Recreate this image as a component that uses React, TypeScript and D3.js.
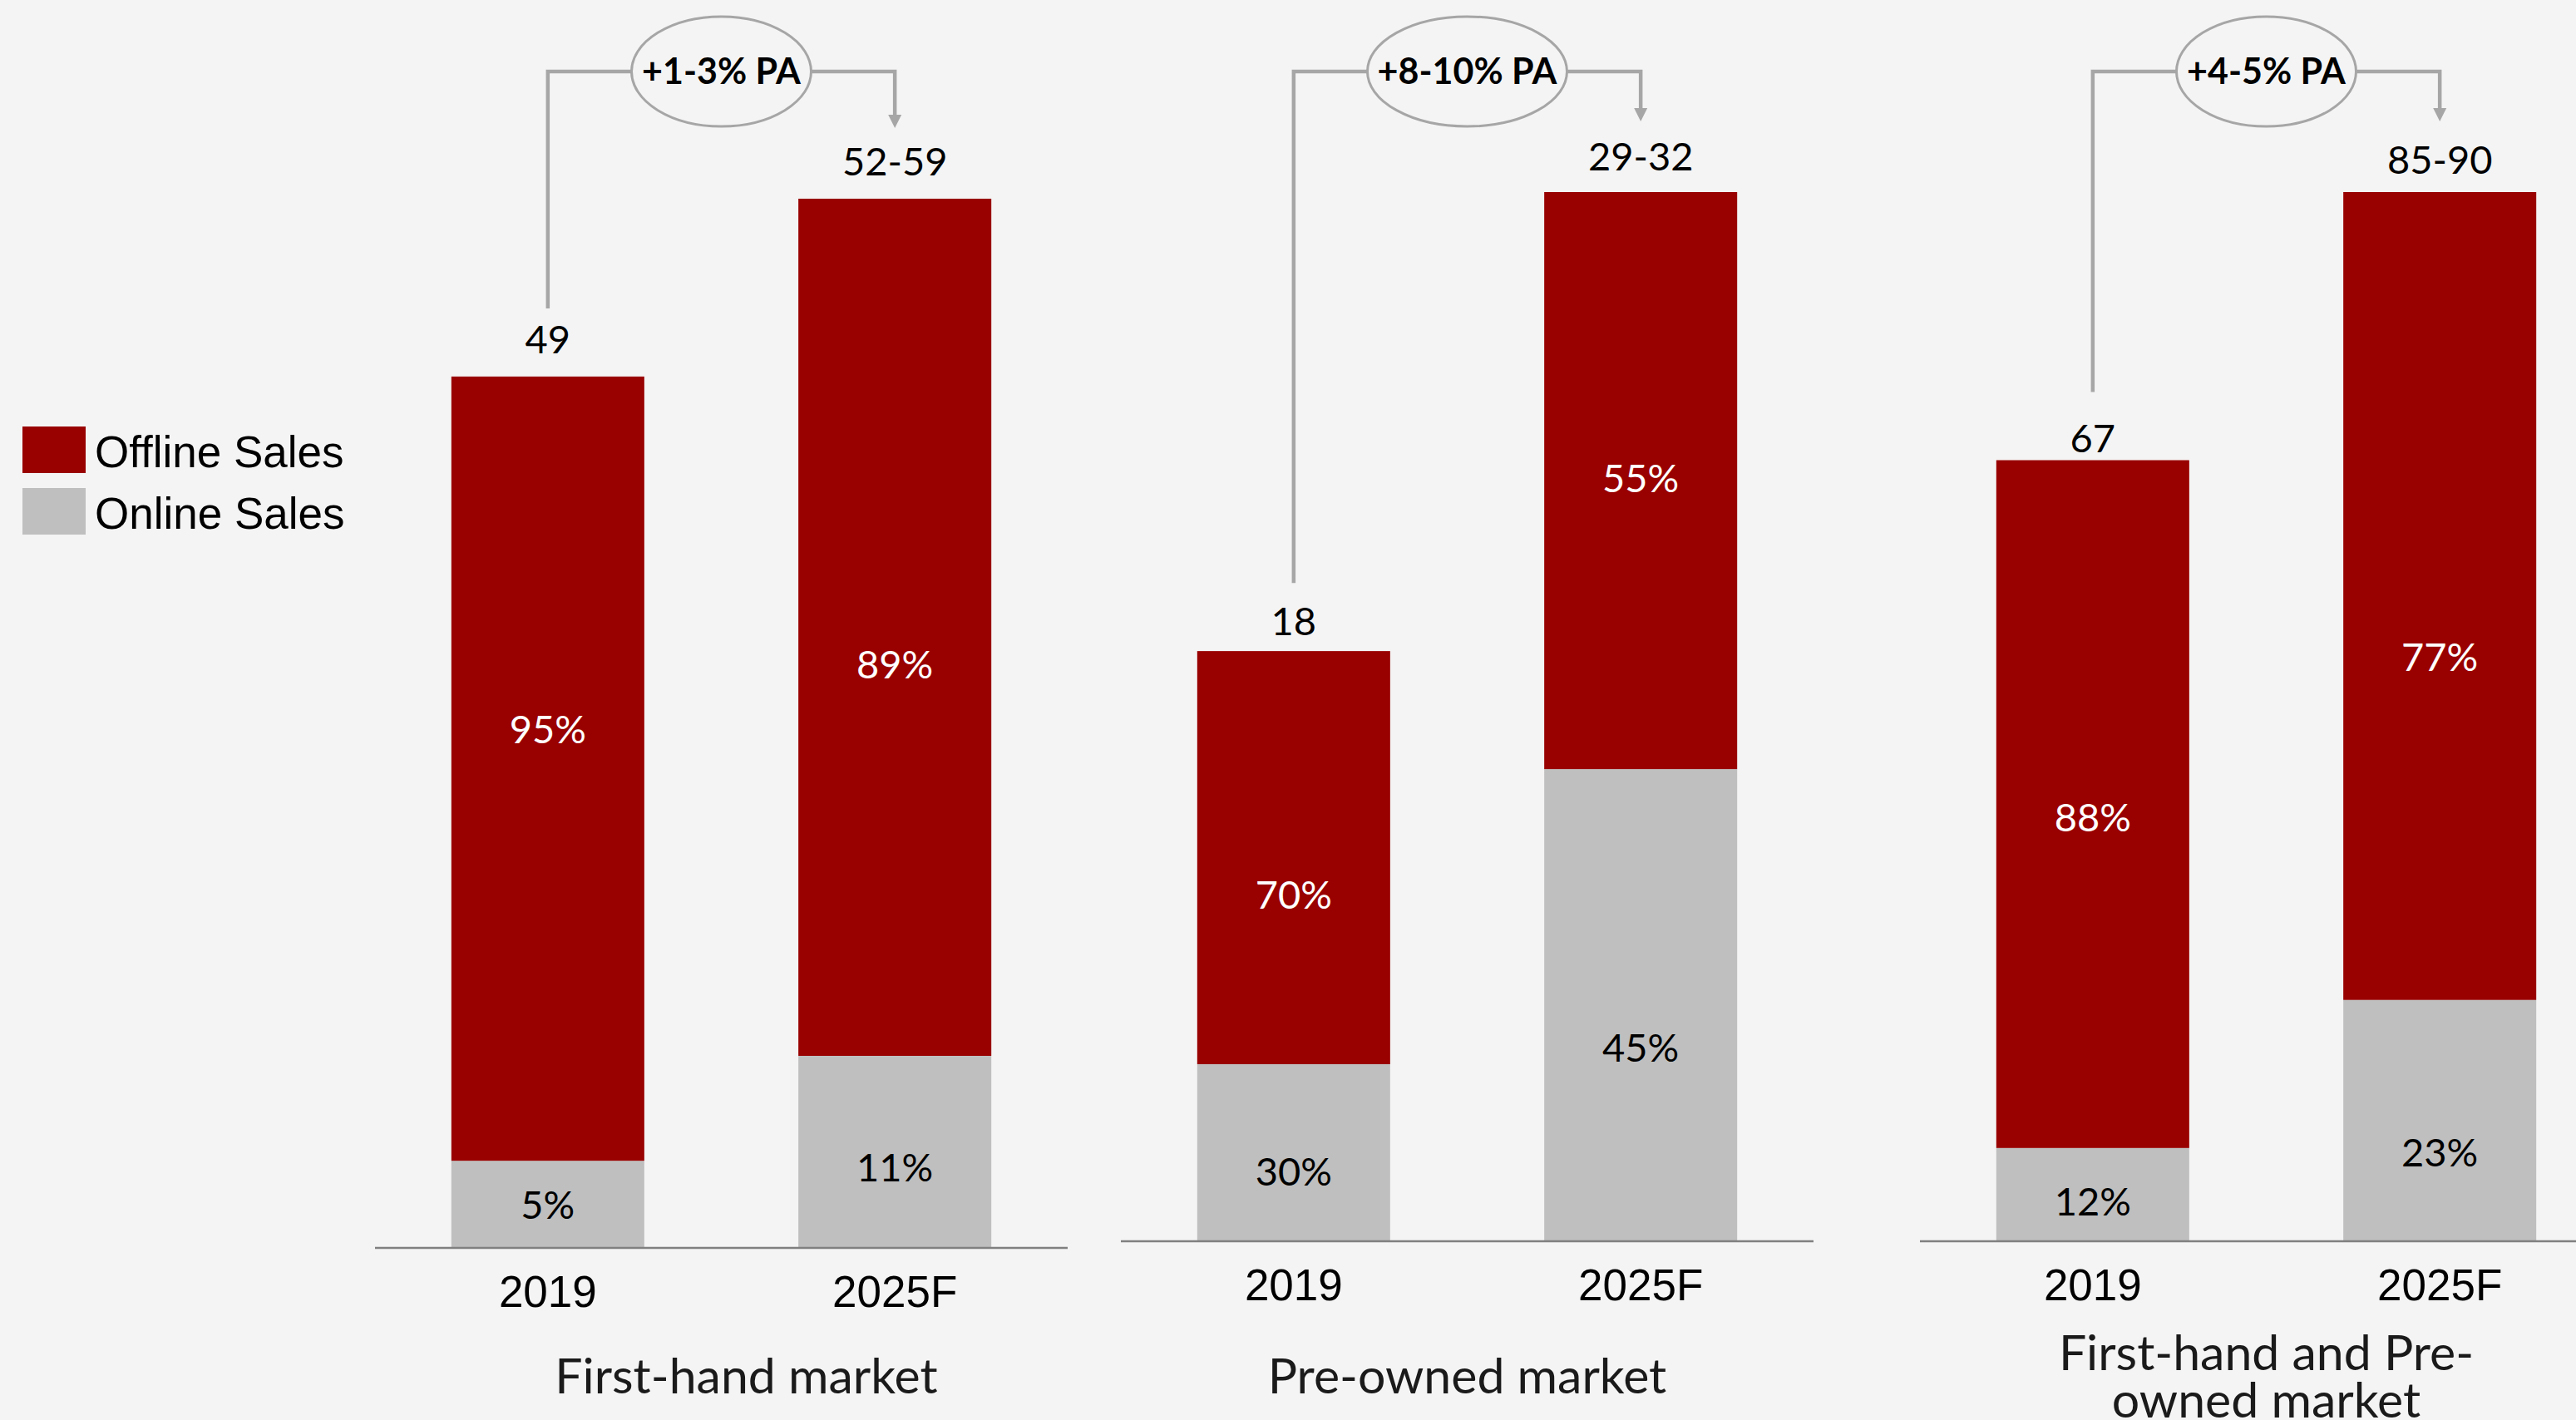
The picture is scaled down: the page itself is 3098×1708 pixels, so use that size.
import React from "react";
import * as d3 from "d3";

// ---------- data ----------
const PANEL_TITLES: string[][] = [
  ["First-hand market"],
  ["Pre-owned market"],
  ["First-hand and Pre-", "owned market"],
];
const YEARS = ["2019", "2025F"];
// plotted stack values (as drawn)
const ONLINE_VALUES = [
  [4.9, 10.8],
  [5.4, 14.4],
  [8.0, 20.7],
];
const OFFLINE_VALUES = [
  [44.1, 48.2],
  [12.6, 17.6],
  [59.0, 69.3],
];
const TOTAL_LABELS = [
  ["49", "52-59"],
  ["18", "29-32"],
  ["67", "85-90"],
];
const OFFLINE_PCT = [
  ["95%", "89%"],
  ["70%", "55%"],
  ["88%", "77%"],
];
const ONLINE_PCT = [
  ["5%", "11%"],
  ["30%", "45%"],
  ["12%", "23%"],
];
const GROWTH = ["+1-3% PA", "+8-10% PA", "+4-5% PA"];
const LEGEND = ["Offline Sales", "Online Sales"];

// ---------- layout / style ----------
const W = 3098;
const H = 1708;
const BG = "#f4f4f4";
const RED = "#990000";
const GREY = "#bfbfbf";
const LINE = "#a6a6a6";
const PANELS = [
  { x0: 451, axisY: 1501, titleDx: 30 },
  { x0: 1348, axisY: 1493, titleDx: 0 },
  { x0: 2309, axisY: 1493, titleDx: 0 },
];
// label placement tweaks (px) relative to segment centre / bar top
const OFFLINE_LABEL_DY = [
  [-47, 45],
  [45, -3],
  [16, 74],
];
const ONLINE_LABEL_DY = [
  [1, 19],
  [23, 51],
  [9, 39],
];
const TOP_GAP = [
  [28, 28],
  [19, 26],
  [10, 22],
];
const PANEL_W = 833;
const BAR_MAX_H = 1262;
const CAL = "Lato, 'Open Sans', sans-serif";
const ARIAL = "'Liberation Sans', Arial, sans-serif";

function Panel({ i }: { i: number }) {
  const L = PANELS[i];
  const x = d3
    .scaleBand<string>()
    .domain(YEARS)
    .range([L.x0, L.x0 + PANEL_W])
    .paddingInner(0.444)
    .paddingOuter(0.22);
  const totals = YEARS.map((_, j) => ONLINE_VALUES[i][j] + OFFLINE_VALUES[i][j]);
  const y = d3
    .scaleLinear()
    .domain([0, d3.max(totals) as number])
    .range([L.axisY, L.axisY - BAR_MAX_H]);

  const table = YEARS.map((yr, j) => ({
    year: yr,
    online: ONLINE_VALUES[i][j],
    offline: OFFLINE_VALUES[i][j],
  }));
  const series = d3.stack<any>().keys(["online", "offline"])(table);
  const pctLabels: Record<string, string[]> = {
    online: ONLINE_PCT[i],
    offline: OFFLINE_PCT[i],
  };
  const labelDy: Record<string, number[]> = {
    online: ONLINE_LABEL_DY[i],
    offline: OFFLINE_LABEL_DY[i],
  };

  const bw = x.bandwidth();
  const cx0 = (x(YEARS[0]) as number) + bw / 2;
  const cx1 = (x(YEARS[1]) as number) + bw / 2;
  const top0 = y(totals[0]);
  const top1 = y(totals[1]);
  const hy = 86;
  const ecx = (cx0 + cx1) / 2;
  const rx = 12 * GROWTH[i].length + 12;
  const ry = 66;
  const tipY = top1 - 85;
  const lineBottom = top0 - 82;

  const centerX = L.x0 + PANEL_W / 2 + L.titleDx;
  const titleLines = PANEL_TITLES[i];
  const titleBase = titleLines.length === 1 ? [1676] : [1648, 1705];

  return (
    <g>
      {series.map((s) => (
        <g key={s.key}>
          {s.map((d: any, j: number) => {
            const y0 = y(d[0]);
            const y1 = y(d[1]);
            return (
              <g key={j}>
                <rect
                  x={x(d.data.year)}
                  y={y1}
                  width={bw}
                  height={y0 - y1}
                  fill={s.key === "offline" ? RED : GREY}
                />
                <text
                  x={(x(d.data.year) as number) + bw / 2}
                  y={(y0 + y1) / 2 + labelDy[s.key][j]}
                  dy="0.35em"
                  textAnchor="middle"
                  fontFamily={CAL}
                  fontSize={47}
                  fill={s.key === "offline" ? "#ffffff" : "#000000"}
                >
                  {pctLabels[s.key][j]}
                </text>
              </g>
            );
          })}
        </g>
      ))}
      <line
        x1={L.x0}
        x2={L.x0 + PANEL_W}
        y1={L.axisY}
        y2={L.axisY}
        stroke="#808080"
        strokeWidth={2.5}
      />
      {YEARS.map((yr, j) => (
        <g key={yr}>
          <text
            x={(x(yr) as number) + bw / 2}
            y={y(totals[j]) - TOP_GAP[i][j]}
            textAnchor="middle"
            fontFamily={CAL}
            fontSize={47}
            fill="#000"
          >
            {TOTAL_LABELS[i][j]}
          </text>
          <text
            x={(x(yr) as number) + bw / 2}
            y={L.axisY + 71}
            textAnchor="middle"
            fontFamily={ARIAL}
            fontSize={53}
            fill="#000"
          >
            {yr}
          </text>
        </g>
      ))}
      {titleLines.map((t, k) => (
        <text
          key={k}
          x={centerX}
          y={titleBase[k]}
          textAnchor="middle"
          fontFamily={CAL}
          fontSize={59}
          fill="#1a1a1a"
        >
          {t}
        </text>
      ))}
      {/* growth connector */}
      <path
        d={`M${cx0},${lineBottom}V${hy}H${ecx - rx}M${ecx + rx},${hy}H${cx1}V${tipY - 14}`}
        fill="none"
        stroke={LINE}
        strokeWidth={4.5}
      />
      <path
        d={`M${cx1 - 8},${tipY - 16}L${cx1 + 8},${tipY - 16}L${cx1},${tipY}Z`}
        fill={LINE}
      />
      <ellipse cx={ecx} cy={hy} rx={rx} ry={ry} fill={BG} stroke={LINE} strokeWidth={3} />
      <text
        x={ecx}
        y={hy}
        dy="0.36em"
        textAnchor="middle"
        fontFamily={CAL}
        fontWeight={700}
        fontSize={43}
        fill="#000"
      >
        {GROWTH[i]}
      </text>
    </g>
  );
}

export default function App() {
  return (
    <svg
      width={W}
      height={H}
      viewBox={`0 0 ${W} ${H}`}
      style={{ position: "absolute", left: 0, top: 0, display: "block" }}
    >
      <rect width={W} height={H} fill={BG} />
      {/* legend */}
      {LEGEND.map((lbl, k) => (
        <g key={lbl}>
          <rect x={27} y={513 + k * 74} width={76} height={56} fill={k === 0 ? RED : GREY} />
          <text x={114} y={562 + k * 74} fontFamily={ARIAL} fontSize={53} fill="#000">
            {lbl}
          </text>
        </g>
      ))}
      {PANELS.map((_, i) => (
        <Panel key={i} i={i} />
      ))}
    </svg>
  );
}
